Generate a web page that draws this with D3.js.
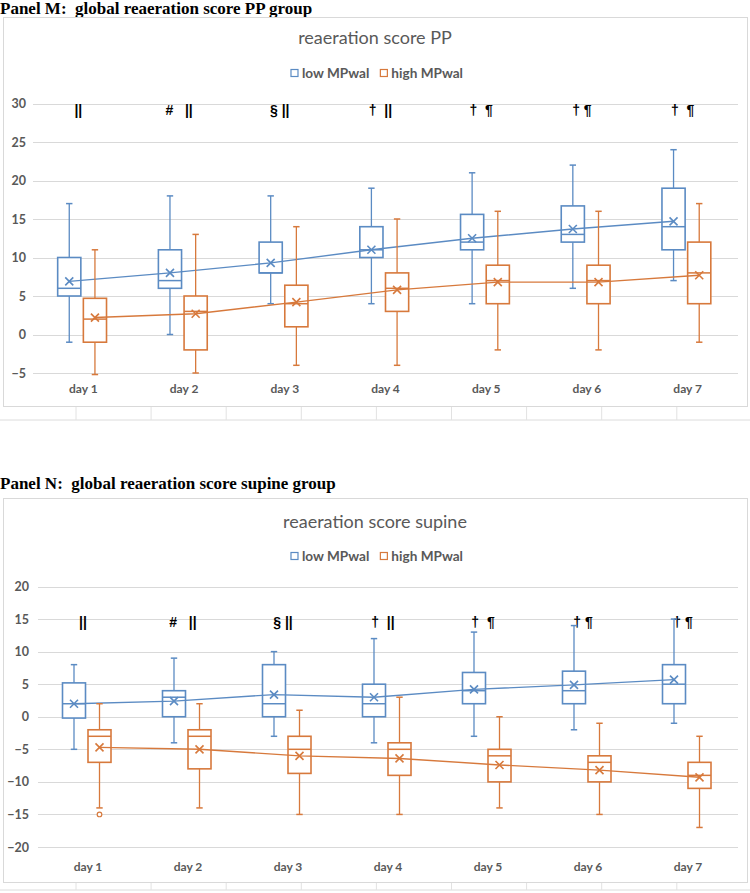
<!DOCTYPE html>
<html><head><meta charset="utf-8">
<script src="https://cdn.jsdelivr.net/npm/d3@7"></script>
<style>body{margin:0;background:#fff}svg{display:block}</style>
</head><body>
<svg id="c" width="750" height="893"></svg>
<script>
// ---------- data ----------
const days = ["day 1","day 2","day 3","day 4","day 5","day 6","day 7"];
const seriesNames = ["low MPwal","high MPwal"];
const seriesColors = ["#5b8bc3","#d7793c"];

// Panel M (PP group)
const ppLowMin  = [-1, 0, 4, 4, 4, 6, 7];
const ppLowQ1   = [5, 6, 8, 10, 11, 12, 11];
const ppLowMed  = [6, 7, 8, 11, 12, 13, 14];
const ppLowQ3   = [10, 11, 12, 14, 15.6, 16.7, 19];
const ppLowMax  = [17, 18, 18, 19, 21, 22, 24];
const ppLowMean = [6.9, 8, 9.3, 11, 12.5, 13.7, 14.7];
const ppHighMin  = [-5.2, -5, -4, -4, -2, -2, -1];
const ppHighQ1   = [-1, -2, 1, 3, 4, 4, 4];
const ppHighMed  = [2, 3, 4, 6, 7, 7, 8];
const ppHighQ3   = [4.7, 5, 6.4, 8, 9, 9, 12];
const ppHighMax  = [11, 13, 14, 15, 16, 16, 17];
const ppHighMean = [2.2, 2.7, 4.2, 5.8, 6.8, 6.8, 7.7];
const ppTicks = [-5, 0, 5, 10, 15, 20, 25, 30];
const ppAnnot = ["||", "#   ||", "§ ||", "†  ||", "†  ¶", "† ¶", "†  ¶"];

// Panel N (supine group)
const supLowMin  = [-5, -4, -3, -4, -3, -2, -1];
const supLowQ1   = [-0.2, 0, 0, 0, 2, 2, 2];
const supLowMed  = [2, 3, 2, 2, 4, 4, 5];
const supLowQ3   = [5.2, 4, 8, 5, 6.8, 7, 8];
const supLowMax  = [8, 9, 10, 12, 13, 14, 15];
const supLowMean = [2, 2.4, 3.4, 3, 4.2, 4.9, 5.7];
const supHighMin  = [-14, -14, -15, -15, -14, -15, -17];
const supHighQ1   = [-7, -8, -8.7, -9, -10, -10, -11];
const supHighMed  = [-3, -3, -5, -5, -6, -7, -9];
const supHighQ3   = [-2, -2, -3, -4, -5, -6, -7];
const supHighMax  = [2, 2, 1, 3, 0, -1, -3];
const supHighMean = [-4.7, -5, -6, -6.4, -7.4, -8.2, -9.3];
const supHighOutliers = [[-15], [], [], [], [], [], []];
const supTicks = [-20, -15, -10, -5, 0, 5, 10, 15, 20];
const supAnnot = ["||", "#   ||", "§ ||", "†  ||", "†  ¶", "† ¶", "† ¶"];

// ---------- drawing ----------
const svg = d3.select("#c");
const gridColor = "#d9d9d9";
const textGray = "#595959";
const uiFont = "Lato, 'Open Sans', sans-serif";

function build(min,q1,med,q3,max,mean,out){
  return days.map((d,i)=>({day:d,min:min[i],q1:q1[i],med:med[i],q3:q3[i],max:max[i],mean:mean[i],out:out?out[i]:[]}));
}

function drawPanel(cfg){
  const g = svg.append("g");
  // heading
  g.append("text").attr("x", 0).attr("y", cfg.headY)
    .attr("font-family","'Liberation Serif', 'Times New Roman', serif")
    .attr("font-weight","bold").attr("font-size", 17).attr("fill","#000")
    .attr("xml:space","preserve").style("white-space","pre")
    .text(cfg.heading);
  // spreadsheet cell row below chart
  g.append("line").attr("x1",0).attr("x2",750).attr("y1",cfg.cellY).attr("y2",cfg.cellY)
    .attr("stroke","#dcdcdc");
  d3.range(76, 750, 75.1).forEach(x=>{
    g.append("line").attr("x1",x).attr("x2",x).attr("y1",cfg.frame[1]+cfg.frame[3]).attr("y2",cfg.cellY)
      .attr("stroke","#e2e2e2");
  });
  // frame
  g.append("rect").attr("x",cfg.frame[0]+0.5).attr("y",cfg.frame[1]+0.5)
    .attr("width",cfg.frame[2]).attr("height",cfg.frame[3])
    .attr("fill","#fff").attr("stroke",gridColor);

  const x = d3.scaleBand().domain(days).range([cfg.left, cfg.right]).padding(0);
  const y = d3.scaleLinear().domain(cfg.domain).range([cfg.bottom, cfg.top]);
  const bw = x.bandwidth();

  // gridlines
  g.append("g").selectAll("line").data(cfg.ticks).join("line")
    .attr("x1",cfg.left).attr("x2",cfg.right)
    .attr("y1",d=>Math.round(y(d))+0.5).attr("y2",d=>Math.round(y(d))+0.5)
    .attr("stroke",gridColor).attr("stroke-width",1.2);

  // y axis labels
  const yAxis = d3.axisLeft(y).tickValues(cfg.ticks).tickSize(0).tickPadding(0);
  const ya = g.append("g").attr("transform",`translate(${cfg.labelRight},0)`).call(yAxis);
  ya.select(".domain").remove();
  ya.selectAll("text").attr("font-family",uiFont).attr("font-weight","bold")
    .attr("font-size",12.5).attr("fill",textGray);

  // x axis labels
  const xAxis = d3.axisBottom(x).tickSize(0).tickPadding(0);
  const xa = g.append("g").attr("transform",`translate(0,${cfg.dayY})`).call(xAxis);
  xa.select(".domain").remove();
  xa.selectAll("text").attr("font-family",uiFont).attr("font-weight","bold")
    .attr("font-size",12).attr("fill",textGray).attr("dy","0.35em");

  // title
  const cx = cfg.frame[0] + cfg.frame[2]/2;
  g.append("text").attr("x",cx).attr("y",cfg.titleY).attr("text-anchor","middle")
    .attr("dy","0.35em").attr("font-family",uiFont).attr("font-size",18)
    .attr("fill",textGray).text(cfg.title);

  // legend
  const lg = g.append("g");
  const items = seriesNames.map((n,i)=>({n,c:seriesColors[i]}));
  let lx = 0;
  const itemG = lg.selectAll("g").data(items).join("g");
  itemG.append("rect").attr("width",7).attr("height",7).attr("y",-3.5)
    .attr("fill","#fff").attr("stroke",d=>d.c).attr("stroke-width",1.2);
  itemG.append("text").attr("x",11).attr("dy","0.35em").attr("font-family",uiFont)
    .attr("font-weight","bold").attr("font-size",13.6).attr("fill",textGray).text(d=>d.n);
  itemG.each(function(){
    const w = this.getBBox().width;
    d3.select(this).attr("transform",`translate(${lx},0)`);
    lx += w + 11;
  });
  const totalW = lx - 11;
  lg.attr("transform",`translate(${cx - totalW/2 + 2},${cfg.legendY})`);

  // annotations
  g.append("g").selectAll("text").data(cfg.annot).join("text")
    .attr("x",(d,i)=>x(days[i]) + bw/2 - 5).attr("y",cfg.annotY)
    .attr("text-anchor","middle").attr("dy","0.35em")
    .attr("font-family","'Liberation Sans', Arial, sans-serif").attr("font-weight","bold")
    .attr("font-size",14).attr("fill","#000")
    .attr("xml:space","preserve").style("white-space","pre")
    .text(d=>d);

  // series
  const offsets = [-0.14, 0.115];
  const boxW = bw*0.23;
  cfg.series.forEach((data,si)=>{
    const col = seriesColors[si];
    const sg = g.append("g");
    const cxOf = d => x(d.day) + bw/2 + offsets[si]*bw;
    // whiskers
    sg.selectAll(".wh").data(data).join("line")
      .attr("x1",cxOf).attr("x2",cxOf)
      .attr("y1",d=>y(d.min)).attr("y2",d=>y(d.max))
      .attr("stroke",col).attr("stroke-width",1.3);
    // caps
    ["min","max"].forEach(k=>{
      sg.selectAll(".cap"+k).data(data).join("line")
        .attr("x1",d=>cxOf(d)-3.2).attr("x2",d=>cxOf(d)+3.2)
        .attr("y1",d=>y(d[k])).attr("y2",d=>y(d[k]))
        .attr("stroke",col).attr("stroke-width",1.5);
    });
    // boxes
    sg.selectAll(".box").data(data).join("rect")
      .attr("x",d=>cxOf(d)-boxW/2).attr("width",boxW)
      .attr("y",d=>y(d.q3)).attr("height",d=>y(d.q1)-y(d.q3))
      .attr("fill","#fff").attr("stroke",col).attr("stroke-width",1.6);
    // median
    sg.selectAll(".med").data(data).join("line")
      .attr("x1",d=>cxOf(d)-boxW/2).attr("x2",d=>cxOf(d)+boxW/2)
      .attr("y1",d=>y(d.med)).attr("y2",d=>y(d.med))
      .attr("stroke",col).attr("stroke-width",1.5);
    // outliers
    const outs = data.flatMap(d=>d.out.map(v=>({day:d.day,v})));
    sg.selectAll(".out").data(outs).join("circle")
      .attr("cx",cxOf).attr("cy",d=>y(d.v)).attr("r",2.3)
      .attr("fill","#fff").attr("stroke",col).attr("stroke-width",1.2);
    // mean line
    sg.append("path").datum(data)
      .attr("d",d3.line().x(cxOf).y(d=>y(d.mean)))
      .attr("fill","none").attr("stroke",col).attr("stroke-width",1.4);
    // mean markers
    const s = 4;
    sg.selectAll(".mk").data(data).join("path")
      .attr("d",d=>{const px=cxOf(d),py=y(d.mean);
        return `M${px-s},${py-s}L${px+s},${py+s}M${px-s},${py+s}L${px+s},${py-s}`;})
      .attr("stroke",col).attr("stroke-width",1.6).attr("fill","none");
  });
}

drawPanel({
  heading:"Panel M:  global reaeration score PP group", headY:14,
  frame:[3,17,744,389], cellY:420,
  left:33, right:738, top:103.5, bottom:373, domain:[-5,30],
  ticks:ppTicks, labelRight:26, dayY:389, titleY:38, legendY:73, annotY:110,
  title:"reaeration score PP", annot:ppAnnot,
  series:[build(ppLowMin,ppLowQ1,ppLowMed,ppLowQ3,ppLowMax,ppLowMean),
          build(ppHighMin,ppHighQ1,ppHighMed,ppHighQ3,ppHighMax,ppHighMean)]
});

drawPanel({
  heading:"Panel N:  global reaeration score supine group", headY:489,
  frame:[3,498,744,384], cellY:890,
  left:38, right:738, top:586.5, bottom:847, domain:[-20,20],
  ticks:supTicks, labelRight:29, dayY:867, titleY:522, legendY:556, annotY:622,
  title:"reaeration score supine", annot:supAnnot,
  series:[build(supLowMin,supLowQ1,supLowMed,supLowQ3,supLowMax,supLowMean),
          build(supHighMin,supHighQ1,supHighMed,supHighQ3,supHighMax,supHighMean,supHighOutliers)]
});
</script>
</body></html>
